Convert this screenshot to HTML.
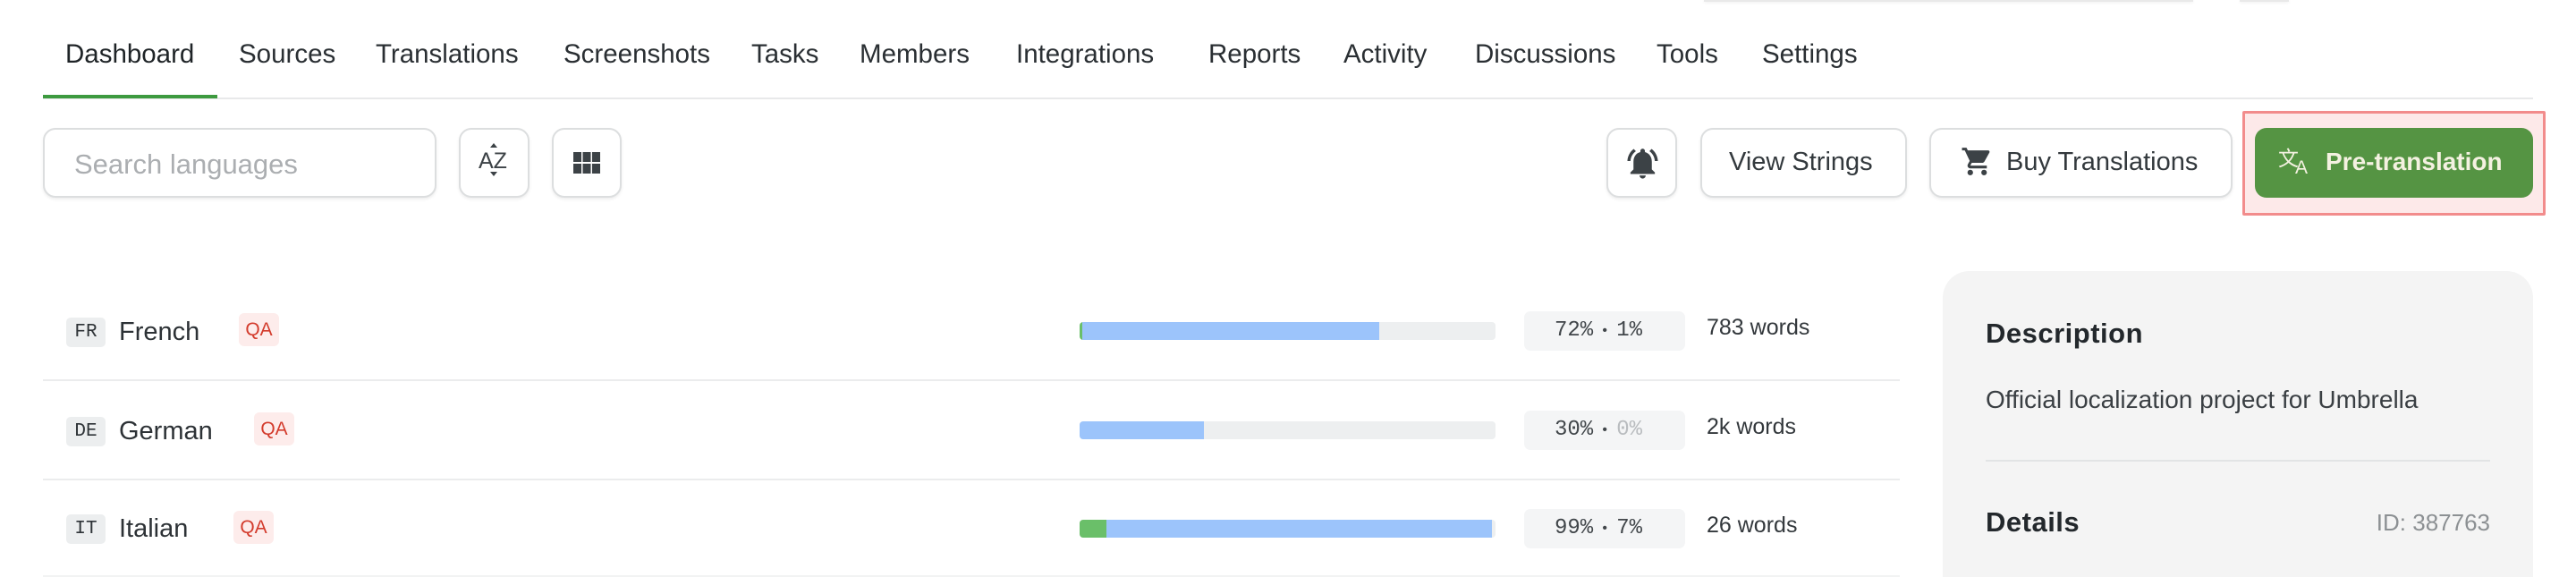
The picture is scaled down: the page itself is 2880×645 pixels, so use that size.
<!DOCTYPE html>
<html>
<head>
<meta charset="utf-8">
<style>
html,body{margin:0;padding:0;background:#fff;overflow:hidden;}
#root{position:relative;width:2880px;height:645px;overflow:hidden;background:#fff;font-family:"Liberation Sans","Noto Sans CJK SC",sans-serif;color:#2f3437;}
.a{position:absolute;white-space:nowrap;}
.nav{position:absolute;top:41px;height:40px;line-height:40px;font-size:29.5px;color:#2a2f33;white-space:nowrap;}
.btn{position:absolute;top:143px;height:78px;box-sizing:border-box;border:2px solid #dcdedf;border-radius:14px;background:#fff;box-shadow:0 2px 3px rgba(0,0,0,0.07);}
.sep{position:absolute;left:48px;width:2076px;height:2px;background:#ebeced;}
.badge{position:absolute;left:74px;width:44px;height:33px;border-radius:5px;background:#eceeef;font-family:"Liberation Mono",monospace;font-size:21px;line-height:33px;text-align:center;color:#2e3337;}
.name{position:absolute;left:133px;height:40px;line-height:40px;font-size:29px;color:#2d3236;white-space:nowrap;}
.qa{position:absolute;width:45px;height:37px;border-radius:6px;background:#fdeceb;color:#d33b2c;font-size:21px;line-height:37px;text-align:center;}
.track{position:absolute;left:1207px;width:465px;height:20px;border-radius:4px;background:#edeff0;overflow:hidden;}
.fill{position:absolute;top:0;height:20px;}
.pill{position:absolute;left:1704px;width:180px;height:44px;border-radius:7px;background:#f4f5f6;}
.pill .tx{position:absolute;left:34px;top:2px;height:40px;line-height:40px;font-family:"Liberation Mono",monospace;font-size:24px;color:#41464a;white-space:nowrap;}
.pill .dot{display:inline-block;width:26px;text-align:center;font-family:"Liberation Sans",sans-serif;font-size:16px;vertical-align:top;}
.words{position:absolute;left:1908px;height:40px;line-height:40px;font-size:25px;color:#33383c;white-space:nowrap;}
</style>
</head>
<body>
<div id="root">

<div class="a" style="left:1905px;top:0;width:547px;height:2px;background:#e9e9e9;box-shadow:0 1px 3px rgba(0,0,0,0.08);"></div>
<div class="a" style="left:2504px;top:0;width:55px;height:2px;background:#e9e9e9;box-shadow:0 1px 3px rgba(0,0,0,0.08);"></div>

<div class="nav" style="left:73px;color:#1f2427;">Dashboard</div>
<div class="nav" style="left:267px;">Sources</div>
<div class="nav" style="left:420px;">Translations</div>
<div class="nav" style="left:630px;">Screenshots</div>
<div class="nav" style="left:840px;">Tasks</div>
<div class="nav" style="left:961px;">Members</div>
<div class="nav" style="left:1136px;">Integrations</div>
<div class="nav" style="left:1351px;">Reports</div>
<div class="nav" style="left:1502px;">Activity</div>
<div class="nav" style="left:1649px;">Discussions</div>
<div class="nav" style="left:1852px;">Tools</div>
<div class="nav" style="left:1970px;">Settings</div>

<div class="a" style="left:48px;top:109px;width:2784px;height:2px;background:#e8e9ea;"></div>
<div class="a" style="left:48px;top:106px;width:195px;height:4px;background:#3d9a3f;"></div>

<div class="btn" style="left:48px;width:440px;"></div>
<div class="a" style="left:83px;top:164px;height:40px;line-height:40px;font-size:31px;color:#abaeb1;">Search languages</div>

<div class="btn" style="left:513px;width:79px;"></div>
<div class="a" style="left:535px;top:160px;height:40px;line-height:40px;font-size:25px;color:#3c4246;">AZ</div>
<svg class="a" style="left:546px;top:159px;" width="12" height="40" viewBox="0 0 12 40">
  <polygon points="6,1 10,6 2,6" fill="#3c4246"/>
  <polygon points="6,38 10,33 2,33" fill="#3c4246"/>
</svg>

<div class="btn" style="left:617px;width:78px;"></div>
<svg class="a" style="left:641px;top:170px;" width="30" height="24" viewBox="0 0 30 24">
  <g fill="#3c4246">
    <rect x="0" y="0" width="9" height="11"/><rect x="10.5" y="0" width="9" height="11"/><rect x="21" y="0" width="9" height="11"/>
    <rect x="0" y="13" width="9" height="11"/><rect x="10.5" y="13" width="9" height="11"/><rect x="21" y="13" width="9" height="11"/>
  </g>
</svg>

<div class="btn" style="left:1796px;width:79px;"></div>
<svg class="a" style="left:1816px;top:162px;" width="41" height="41" viewBox="0 0 24 24">
  <path fill="#3c4246" d="M7.58 4.08L6.15 2.65C3.750 4.48 2.17 7.3 2.03 10.5h2c.15-2.65 1.51-4.97 3.55-6.42zm12.39 6.42h2c-.15-3.2-1.73-6.02-4.12-7.85l-1.42 1.43c2.02 1.45 3.39 3.77 3.54 6.42zM18 11c0-3.07-1.64-5.64-4.5-6.32V4c0-.83-.67-1.5-1.5-1.5s-1.5.67-1.5 1.5v.68C7.63 5.36 6 7.92 6 11v5l-2 2v1h16v-1l-2-2v-5zm-6 11c.14 0 .27-.01.4-.04.65-.14 1.18-.58 1.44-1.18.1-.24.15-.5.15-.78h-4c.01 1.1.9 2 2.01 2z"/>
</svg>

<div class="btn" style="left:1901px;width:231px;"></div>
<div class="a" style="left:1933px;top:161px;height:40px;line-height:40px;font-size:29px;color:#33393d;">View Strings</div>

<div class="btn" style="left:2157px;width:339px;"></div>
<svg class="a" style="left:2192px;top:162px;" width="37" height="37" viewBox="0 0 24 24">
  <path fill="#3c4246" d="M7 18c-1.1 0-1.99.9-1.99 2S5.9 22 7 22s2-.9 2-2-.9-2-2-2zM1 2v2h2l3.6 7.59-1.35 2.45c-.16.28-.25.61-.25.96 0 1.1.9 2 2 2h12v-2H7.42c-.14 0-.25-.11-.25-.25l.03-.12.9-1.63h7.45c.75 0 1.41-.41 1.75-1.03l3.58-6.49c.08-.14.12-.31.12-.48 0-.55-.45-1-1-1H5.21l-.94-2H1zm16 16c-1.1 0-1.99.9-1.99 2s.89 2 1.99 2 2-.9 2-2-.9-2-2-2z"/>
</svg>
<div class="a" style="left:2243px;top:161px;height:40px;line-height:40px;font-size:29px;color:#33393d;">Buy Translations</div>

<div class="a" style="left:2507px;top:124px;width:339px;height:117px;box-sizing:border-box;border:3px solid #f28c8c;background:#fde9e9;border-radius:2px;"></div>
<div class="a" style="left:2521px;top:143px;width:311px;height:78px;border-radius:13px;background:#559443;"></div>
<div class="a" style="left:2547px;top:160px;height:30px;line-height:30px;font-family:'Noto Sans CJK SC',sans-serif;font-size:23px;color:#f4f1e1;">文</div>
<div class="a" style="left:2566px;top:176px;height:24px;line-height:24px;font-size:21px;color:#f4f1e1;">A</div>
<div class="a" style="left:2600px;top:161px;height:40px;line-height:40px;font-size:28px;font-weight:bold;color:#f4f1e1;">Pre-translation</div>

<div class="badge" style="top:355px;">FR</div>
<div class="name" style="top:351px;">French</div>
<div class="qa" style="left:267px;top:350px;">QA</div>
<div class="track" style="top:360px;">
  <div class="fill" style="left:0;width:3px;background:#6abf69;"></div>
  <div class="fill" style="left:3px;width:332px;background:#9cc4fb;"></div>
</div>
<div class="pill" style="top:348px;"><div class="tx">72%<span class="dot">•</span>1%</div></div>
<div class="words" style="top:346px;">783 words</div>
<div class="sep" style="top:424px;"></div>

<div class="badge" style="top:466px;">DE</div>
<div class="name" style="top:462px;">German</div>
<div class="qa" style="left:284px;top:461px;">QA</div>
<div class="track" style="top:471px;">
  <div class="fill" style="left:0;width:139px;background:#9cc4fb;"></div>
</div>
<div class="pill" style="top:459px;"><div class="tx">30%<span class="dot">•</span><span style="color:#b9bcbf;">0%</span></div></div>
<div class="words" style="top:457px;">2k words</div>
<div class="sep" style="top:535px;"></div>

<div class="badge" style="top:575px;">IT</div>
<div class="name" style="top:571px;">Italian</div>
<div class="qa" style="left:261px;top:571px;">QA</div>
<div class="track" style="top:581px;">
  <div class="fill" style="left:0;width:30px;background:#6abf69;"></div>
  <div class="fill" style="left:30px;width:431px;background:#9cc4fb;"></div>
</div>
<div class="pill" style="top:569px;"><div class="tx">99%<span class="dot">•</span>7%</div></div>
<div class="words" style="top:567px;">26 words</div>
<div class="sep" style="top:643px;background:#f2f3f3;"></div>

<div class="a" style="left:2172px;top:303px;width:660px;height:342px;border-radius:30px 30px 0 0;background:#f4f4f4;"></div>
<div class="a" style="left:2220px;top:353px;height:40px;line-height:40px;font-size:31px;font-weight:bold;letter-spacing:0.5px;color:#23282c;">Description</div>
<div class="a" style="left:2220px;top:427px;height:40px;line-height:40px;font-size:28px;color:#3a3f43;">Official localization project for Umbrella</div>
<div class="a" style="left:2220px;top:514px;width:564px;height:2px;background:#e2e4e5;"></div>
<div class="a" style="left:2220px;top:564px;height:40px;line-height:40px;font-size:31px;font-weight:bold;letter-spacing:0.5px;color:#23282c;">Details</div>
<div class="a" style="right:96px;top:564px;height:40px;line-height:40px;font-size:26px;color:#8c9093;">ID: 387763</div>

</div>
</body>
</html>
